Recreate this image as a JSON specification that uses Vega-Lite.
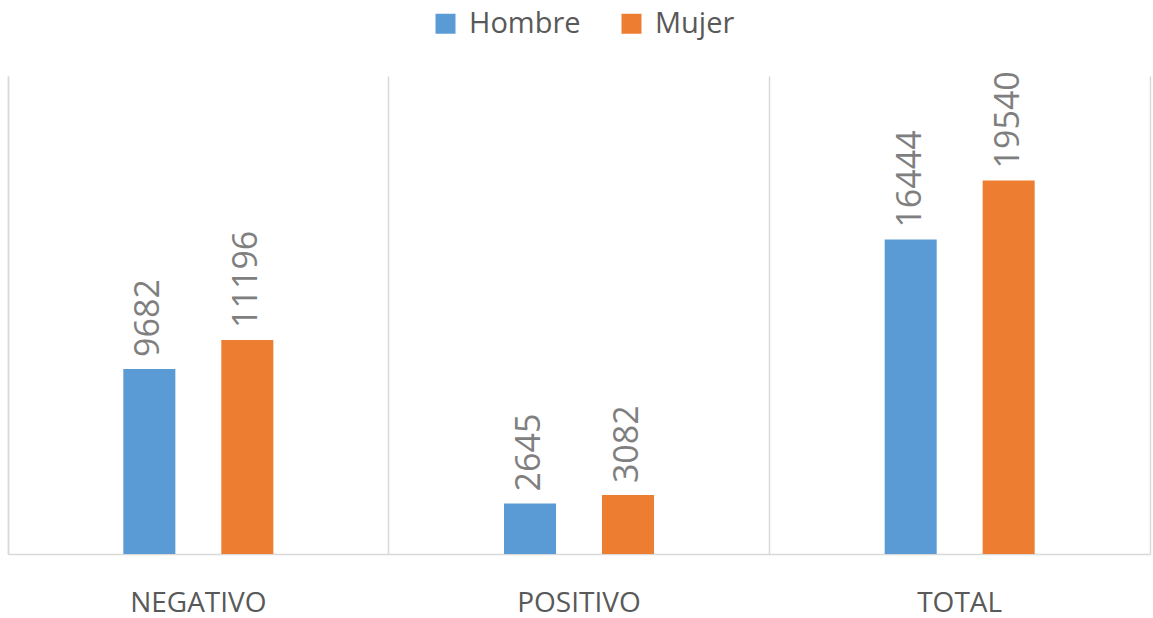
{
  "$schema": "https://vega.github.io/schema/vega-lite/v6.json",
  "width": 1142,
  "height": 478,
  "autosize": {"type": "none"},
  "padding": {"left": 8, "top": 76, "right": 3, "bottom": 64},
  "background": "white",
  "config": {
    "view": {"stroke": null},
    "font": "Open Sans"
  },
  "data": {
    "values": [
      {"resultado": "NEGATIVO", "sexo": "Hombre", "casos": 9682},
      {"resultado": "NEGATIVO", "sexo": "Mujer", "casos": 11196},
      {"resultado": "POSITIVO", "sexo": "Hombre", "casos": 2645},
      {"resultado": "POSITIVO", "sexo": "Mujer", "casos": 3082},
      {"resultado": "TOTAL", "sexo": "Hombre", "casos": 16444},
      {"resultado": "TOTAL", "sexo": "Mujer", "casos": 19540}
    ]
  },
  "encoding": {
    "x": {
      "field": "resultado",
      "type": "nominal",
      "sort": null,
      "scale": {"paddingInner": 0, "paddingOuter": 0},
      "axis": {
        "title": null,
        "labelAngle": 0,
        "labelFont": "Open Sans",
        "labelFontSize": 28,
        "labelColor": "#595959",
        "labelPadding": 35,
        "ticks": false,
        "domainColor": "#d9d9d9",
        "domainWidth": 1.5,
        "grid": true,
        "gridColor": "#d9d9d9",
        "gridWidth": 1.5,
        "bandPosition": 0
      }
    },
    "xOffset": {
      "field": "sexo",
      "type": "nominal",
      "scale": {"domain": ["_a", "Hombre", "Mujer", "_b"], "paddingInner": 0.469, "paddingOuter": 0.177}
    },
    "y": {
      "field": "casos",
      "type": "quantitative",
      "scale": {"domain": [0, 25000], "nice": false}
    }
  },
  "layer": [
    {
      "mark": {"type": "bar"},
      "encoding": {
        "y": {
          "field": "casos",
          "type": "quantitative",
          "axis": {
            "title": null,
            "labels": false,
            "ticks": false,
            "grid": false,
            "domainColor": "#d9d9d9",
            "domainWidth": 1.5
          }
        },
        "color": {
          "field": "sexo",
          "type": "nominal",
          "scale": {"domain": ["Hombre", "Mujer"], "range": ["#5B9BD5", "#ED7D31"]},
          "legend": {
            "title": null,
            "orient": "none",
            "direction": "horizontal",
            "legendX": 423,
            "legendY": -67,
            "symbolType": "square",
            "symbolSize": 400,
            "symbolStrokeWidth": 0,
            "labelFont": "Open Sans",
            "labelFontSize": 29,
            "labelColor": "#595959",
            "labelOffset": 9,
            "columnPadding": 36
          }
        }
      }
    },
    {
      "mark": {
        "type": "text",
        "angle": 270,
        "align": "left",
        "baseline": "middle",
        "dx": 12,
        "font": "Open Sans",
        "fontSize": 34,
        "color": "#7f7f7f"
      },
      "encoding": {
        "text": {"field": "casos", "type": "quantitative", "format": "d"},
        "y": {
          "field": "casos",
          "type": "quantitative",
          "axis": {
            "title": null,
            "orient": "right",
            "labels": false,
            "ticks": false,
            "grid": false,
            "domainColor": "#d9d9d9",
            "domainWidth": 1.5
          }
        }
      }
    }
  ],
  "resolve": {"axis": {"y": "independent"}}
}
